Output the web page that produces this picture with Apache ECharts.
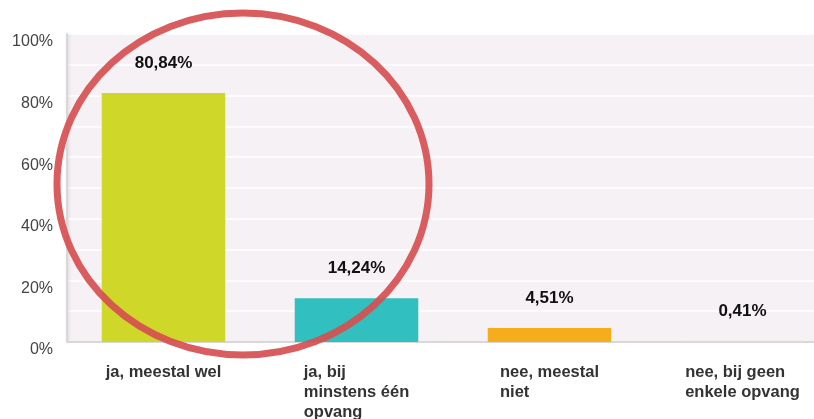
<!DOCTYPE html>
<html>
<head>
<meta charset="utf-8">
<script src="https://cdn.jsdelivr.net/npm/echarts@6/dist/echarts.min.js"></script>
<style>
  html, body { margin: 0; padding: 0; background: #fff; }
  #chart { width: 814px; height: 419px; }
</style>
</head>
<body>
<div id="chart"></div>
<script>
// antwoorden en percentages
const categories = ["ja, meestal wel", "ja, bij\nminstens één\nopvang", "nee, meestal\nniet", "nee, bij geen\nenkele opvang"];
const values = [80.84, 14.24, 4.51, 0.41];
const barColors = ["#cfd728", "#31bfbf", "#f6ad1b", "#e2dae3"];
const yTicks = [0, 20, 40, 60, 80, 100];

const chart = echarts.init(document.getElementById("chart"));

const option = {
  animation: false,
  textStyle: { fontFamily: "Liberation Sans, Arial, sans-serif" },
  grid: {
    left: 67,
    width: 772,
    top: 34,
    bottom: 77,
    outerBoundsMode: "none",
    containLabel: false,
    show: true,
    backgroundColor: "#f6f1f5",
    borderWidth: 0,
  },
  xAxis: {
    type: "category",
    data: categories,
    axisTick: { show: false },
    axisLine: { lineStyle: { color: "#d8d8d8", width: 2 } },
    axisLabel: {
      margin: 20,
      align: "center",
      formatter: (v) => "{a|" + v + "}",
      rich: {
        a: {
          align: "left",
          fontSize: 16.5,
          fontWeight: "bold",
          color: "#333",
          lineHeight: 20,
          fontFamily: "Liberation Sans, Arial, sans-serif",
        },
      },
    },
  },
  yAxis: {
    type: "value",
    min: 0,
    max: 100,
    interval: 10,
    axisLine: {
      show: true,
      lineStyle: { color: "#d8d8d8", width: 2, shadowColor: "rgba(0,0,0,0.12)", shadowBlur: 3, shadowOffsetX: 1 },
    },
    axisTick: { show: false },
    splitLine: { lineStyle: { color: "#ffffff", width: 1.5 } },
    axisLabel: {
      margin: 14,
      fontSize: 16,
      color: "#444",
      verticalAlign: "top",
      formatter: (v) => (yTicks.includes(v) ? v + "%" : ""),
    },
  },
  series: [
    {
      type: "bar",
      barWidth: "64%",
      data: values.map((v, i) => ({ value: v, itemStyle: { color: barColors[i] } })),
      label: {
        show: true,
        position: "top",
        distance: 21,
        fontSize: 17,
        fontWeight: "bold",
        color: "#111",
        formatter: (p) => p.value.toFixed(2).replace(".", ",") + "%",
      },
    },
  ],
  graphic: [
    {
      type: "ellipse",
      shape: { cx: 243, cy: 184, rx: 186, ry: 171 },
      style: { fill: "none", stroke: "#d64f50", lineWidth: 7, opacity: 0.92 },
      z: 100,
    },
  ],
};

chart.setOption(option);
</script>
</body>
</html>
